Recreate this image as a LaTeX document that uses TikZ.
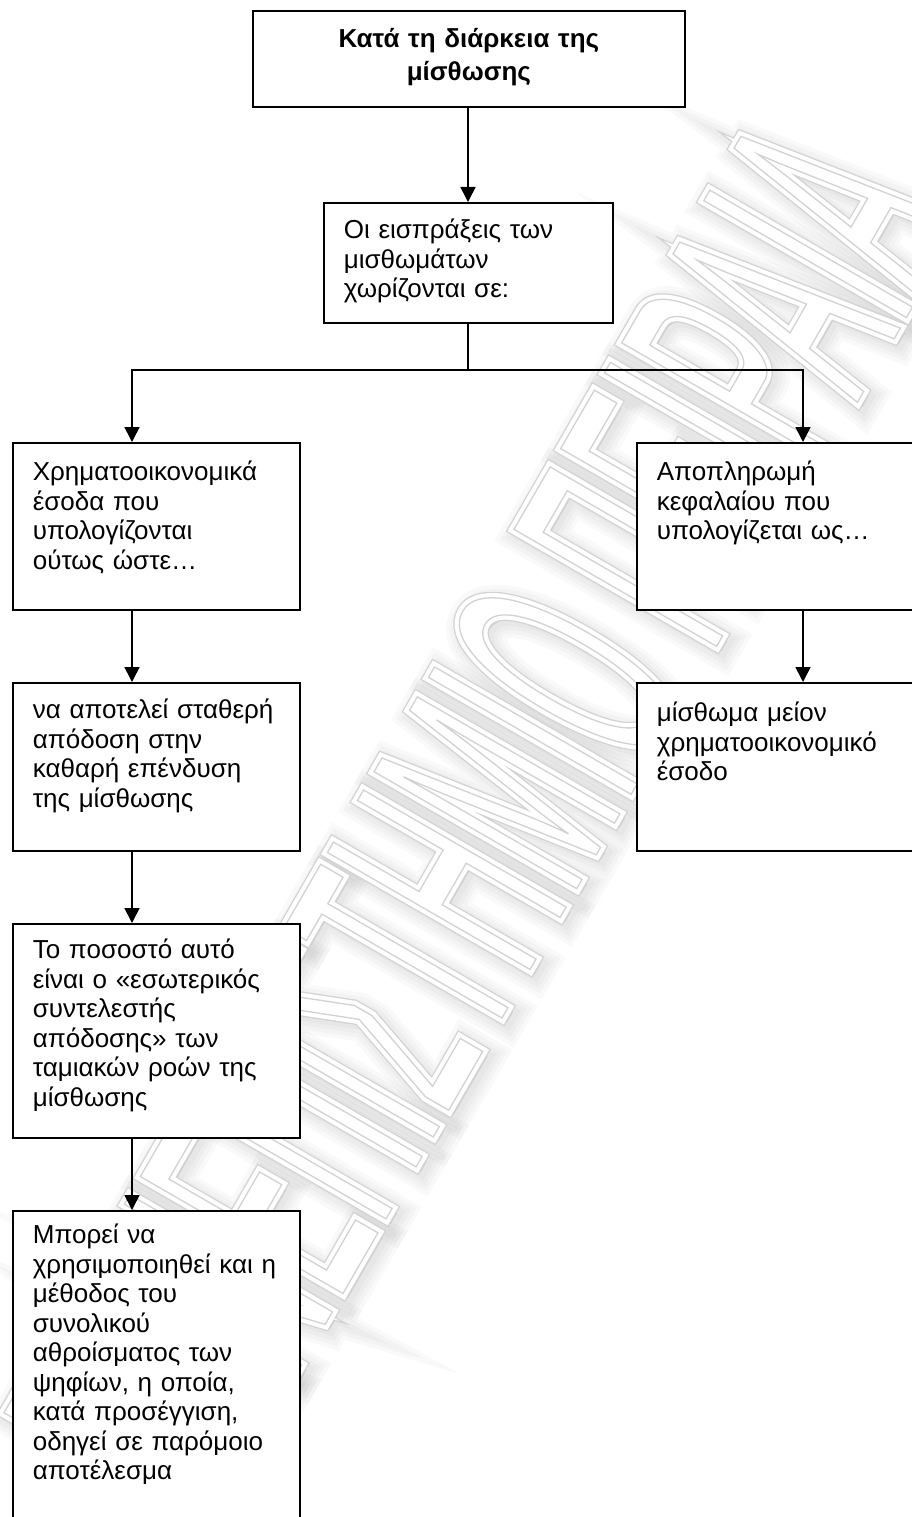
\documentclass[tikz,border=0pt]{standalone}
\usepackage{fontspec}
\setmainfont{Liberation Sans}
\newfontfamily\wmfont[FakeStretch=0.38]{Liberation Sans}
\usetikzlibrary{arrows.meta,calc}

% glyph outlines: text render mode and stroke width
\newcommand\glyphstroke[2]{\special{pdf:literal direct #1 Tr #2 w}}
\newcommand\glyphplain{\special{pdf:literal direct 0 Tr}}

\begin{document}
\begin{tikzpicture}[x=1pt,y=-1pt,
  box/.style={draw=black, line width=1.7pt, fill=white, anchor=north west,
    inner xsep=0pt, inner ysep=0pt, align=left,
    font=\fontsize{26}{29.5}\selectfont},
  conn/.style={line width=1.6pt},
  arr/.style={conn, -{Triangle[length=15pt,width=15pt]}},
  wm/.style={font=\wmfont\fontsize{340}{340}\selectfont, rotate=60,
    inner sep=0pt},
  haze/.style={wm, text=black, text opacity=0.022}
]
\useasboundingbox (0,0) rectangle (912,1517);
\clip (0,0) rectangle (912,1517);

% faint double-outlined watermark lettering with a soft shadow
\def\wmtext{ΠΑΝΕΠΙΣΤΗΜΙΟ ΠΕΙΡΑΙΑ}
\coordinate (wmc) at (480,822);
\foreach \w in {36,28,20,12}{
  \node[haze] at ($(wmc)+(5,5)$) {\glyphstroke{2}{\w}\wmtext\glyphplain};
}
\node[wm, text=gray!35] at (wmc) {\glyphstroke{1}{12}\wmtext\glyphplain};
\node[wm, text=white] at (wmc) {\glyphstroke{1}{9.5}\wmtext\glyphplain};
\node[wm, text=white] at (wmc) {\wmtext};
\node[wm, text=gray!35] at (wmc) {\glyphstroke{1}{1.3}\wmtext\glyphplain};

% boxes
\node[box, align=center, text width=432pt, text height=37pt, text depth=59pt,
  font=\fontsize{26}{33}\selectfont\bfseries] (top) at (252,10)
  {Κατά τη διάρκεια της\\μίσθωσης};
\node[box, text width=289pt, text height=36pt, text depth=84pt] (rec) at (323,202)
  {\leftskip=20pt Οι εισπράξεις των\\μισθωμάτων\\χωρίζονται σε:\par};
\node[box, text width=287pt, text height=38pt, text depth=129pt] (left1) at (12,442)
  {\leftskip=20pt Χρηματοοικονομικά\\έσοδα που\\υπολογίζονται\\ούτως ώστε…\par};
\node[box, text width=287pt, text height=38pt, text depth=129pt] (right1) at (636,442)
  {\leftskip=20pt Αποπληρωμή\\κεφαλαίου που\\υπολογίζεται ως…\par};
\node[box, text width=287pt, text height=36pt, text depth=132pt] (left2) at (12,682)
  {\leftskip=20pt να αποτελεί σταθερή\\απόδοση στην\\καθαρή επένδυση\\της μίσθωσης\par};
\node[box, text width=287pt, text height=39pt, text depth=129pt] (right2) at (636,682)
  {\leftskip=20pt μίσθωμα μείον\\χρηματοοικονομικό\\έσοδο\par};
\node[box, text width=287pt, text height=35pt, text depth=179pt] (left3) at (12,923)
  {\leftskip=20pt Το ποσοστό αυτό\\είναι ο «εσωτερικός\\συντελεστής\\απόδοσης» των\\ταμιακών ροών της\\μίσθωσης\par};
\node[box, text width=287pt, text height=33pt, text depth=307pt] (left4) at (12,1210)
  {\leftskip=20pt Μπορεί να\\χρησιμοποιηθεί και η\\μέθοδος του\\συνολικού\\αθροίσματος των\\ψηφίων, η οποία,\\κατά προσέγγιση,\\οδηγεί σε παρόμοιο\\αποτέλεσμα\par};

% connectors
\coordinate (lx) at (132,0);
\coordinate (rx) at (803,0);
\coordinate (split) at (468,370);
\draw[arr] (top.south -| split) -- (rec.north -| split);
\draw[conn] (rec.south -| split) -- (split);
\draw[arr] (split) -| (left1.north -| lx);
\draw[arr] (split) -| (right1.north -| rx);
\draw[arr] (left1.south -| lx) -- (left2.north -| lx);
\draw[arr] (left2.south -| lx) -- (left3.north -| lx);
\draw[arr] (left3.south -| lx) -- (left4.north -| lx);
\draw[arr] (right1.south -| rx) -- (right2.north -| rx);
\end{tikzpicture}
\end{document}
